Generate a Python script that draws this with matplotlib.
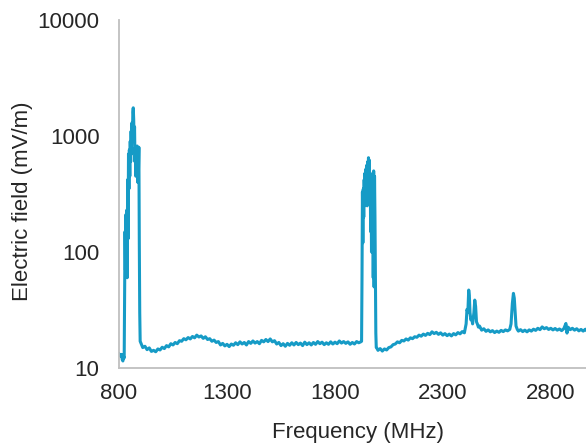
"""
Electric field spectrum 800 - 3000 MHz (log scale), Excel-style line chart
"""

import numpy as np
import matplotlib.pyplot as plt
from matplotlib.ticker import FixedLocator, NullLocator

# ---- data ----
# low end before the first band
low_freq = [800, 803, 806, 809, 812, 815, 818, 821, 824]
low_vals = [13.2, 12.8, 13.0, 12.6, 13.1, 11.8, 11.5, 12.6, 12.2]

# first band (~826-898 MHz)
band1_freq = [826, 828, 830, 832, 834, 836, 838, 840, 842, 844, 846, 848, 850, 852, 854,
              856, 858, 860, 862, 864, 866, 868, 870, 872, 874, 876, 878, 880, 882, 884,
              886, 888, 890, 892, 894, 896, 898]
band1_vals = [40, 150, 70, 210, 90, 230, 60, 420, 130, 700, 350, 760, 450, 900, 600,
              1100, 700, 1300, 900, 1600, 1750, 1400, 900, 1200, 600, 800, 450, 800, 600, 820,
              400, 780, 500, 800, 120, 30, 17]

# floor between the first and second band
mid_freq = [905, 910, 920, 930, 940, 950, 960, 970, 980, 990,
            1000, 1010, 1020, 1030, 1040, 1050, 1060, 1070, 1080, 1090,
            1100, 1110, 1120, 1130, 1140, 1150, 1160, 1170, 1180, 1190,
            1200, 1210, 1220, 1230, 1240, 1250, 1260, 1270, 1280, 1290,
            1300, 1310, 1320, 1330, 1340, 1350, 1360, 1370, 1380, 1390,
            1400, 1410, 1420, 1430, 1440, 1450, 1460, 1470, 1480, 1490,
            1500, 1510, 1520, 1530, 1540, 1550, 1560, 1570, 1580, 1590,
            1600, 1610, 1620, 1630, 1640, 1650, 1660, 1670, 1680, 1690,
            1700, 1710, 1720, 1730, 1740, 1750, 1760, 1770, 1780, 1790,
            1800, 1810, 1820, 1830, 1840, 1850, 1860, 1870, 1880, 1890,
            1900, 1910, 1919]
mid_vals = [15.8, 15.0, 15.4, 14.4, 14.9, 13.9, 14.2, 13.8, 14.6, 14.3,
            15.1, 14.7, 15.6, 15.2, 16.2, 15.8, 16.6, 16.2, 17.2, 17.0,
            17.9, 17.5, 18.3, 17.8, 18.7, 18.2, 19.2, 18.5, 18.9, 18.0,
            18.6, 17.6, 17.9, 17.0, 17.4, 16.6, 16.9, 15.8, 16.3, 15.5,
            16.0, 15.3, 16.1, 15.7, 16.5, 15.9, 16.8, 16.1, 16.6, 15.8,
            16.9, 16.3, 17.1, 16.4, 16.9, 16.2, 17.3, 16.8, 17.6, 16.9,
            17.8, 16.8, 17.2, 16.1, 16.6, 15.6, 16.2, 15.4, 16.3, 15.7,
            16.5, 15.8, 16.6, 15.9, 16.4, 15.6, 16.7, 15.9, 16.5, 15.8,
            16.6, 16.0, 16.9, 16.2, 16.7, 15.9, 16.5, 16.0, 16.8, 16.1,
            16.7, 16.2, 17.1, 16.4, 16.9, 16.3, 16.8, 16.0, 16.6, 16.1,
            16.9, 16.5, 16.8]

# second band (~1923-1991 MHz)
band2_freq = [1923, 1925, 1927, 1929, 1931, 1933, 1935, 1937, 1939, 1941, 1943, 1945,
              1947, 1949, 1951, 1953, 1955, 1957, 1959, 1961, 1963, 1965, 1967, 1969,
              1971, 1973, 1975, 1977, 1979, 1981, 1983, 1985, 1987, 1989, 1991]
band2_vals = [17, 60, 330, 120, 350, 200, 420, 250, 480, 300, 520, 350,
              560, 250, 600, 400, 650, 420, 620, 300, 450, 150, 380, 100,
              300, 120, 480, 60, 500, 50, 450, 200, 60, 20, 15]

# upper floor with the two small bands (~2420 and ~2628 MHz)
high_freq = [1994, 1999, 2009, 2019, 2029, 2039, 2049, 2059, 2069, 2079, 2089, 2099,
             2109, 2119, 2129, 2139, 2149, 2159, 2169, 2179, 2189, 2199, 2209, 2219,
             2229, 2239, 2249, 2259, 2269, 2279, 2289, 2299, 2309, 2319, 2329, 2339,
             2349, 2359, 2369, 2379, 2389, 2399,
             2407, 2411, 2415, 2419, 2422, 2425, 2429, 2433, 2437, 2443, 2447, 2451,
             2455, 2459, 2464,
             2469, 2479, 2489, 2499, 2509, 2519, 2529, 2539, 2549, 2559, 2569, 2579,
             2589, 2599, 2609,
             2615, 2621, 2626, 2630, 2634, 2638, 2644,
             2649, 2659, 2669, 2679, 2689, 2699, 2709, 2719, 2729, 2739, 2749, 2759,
             2769, 2779, 2789, 2799, 2809, 2819, 2829, 2839, 2849, 2859, 2869, 2874,
             2879, 2889, 2899, 2909, 2919, 2929, 2939, 2949, 2959, 2965]
high_vals = [14.8, 14.2, 14.7, 14.0, 14.6, 14.3, 15.0, 15.2, 15.9, 16.1, 16.8, 16.5,
             17.3, 17.1, 17.8, 17.4, 18.2, 17.9, 18.6, 18.4, 19.2, 18.8, 19.6, 19.1,
             19.9, 19.4, 20.5, 19.8, 20.3, 19.5, 20.1, 19.2, 19.8, 19.0, 19.6, 18.9,
             19.8, 19.3, 20.2, 19.7, 20.6, 20.1,
             24, 32, 30, 47, 42, 30, 26, 27, 24, 30, 38.5, 34,
             25, 24, 22.5,
             23, 21.2, 21.8, 20.7, 21.3, 20.5, 21.0, 20.2, 20.8, 20.3, 21.1, 20.6,
             21.3, 20.9, 21.5,
             24, 36, 44, 40, 30, 23, 21.5,
             20.8, 21.4, 20.6, 21.2, 20.5, 21.3, 20.8, 21.6, 21.1, 22.0, 21.4, 22.6,
             21.8, 22.3, 21.5, 22.0, 21.3, 21.9, 21.2, 21.7, 21.0, 21.8, 24.2, 20.0,
             22.5, 21.4, 22.0, 21.2, 21.8, 20.9, 21.5, 20.8, 21.6, 21.0]

x_ticks = [800, 1300, 1800, 2300, 2800]
y_ticks = [10, 100, 1000, 10000]

freq = np.concatenate([low_freq, band1_freq, mid_freq, band2_freq, high_freq])
field = np.concatenate([low_vals, band1_vals, mid_vals, band2_vals, high_vals])

# ---- plot ----
plt.rcParams['font.family'] = ['Liberation Sans', 'DejaVu Sans']
text_color = '#262626'
axis_color = '#bfbfbf'

fig = plt.figure(figsize=(5.86, 4.44), dpi=100)
ax = fig.add_axes([119 / 586, 76 / 444, 467 / 586, 348 / 444])

ax.plot(freq, field, color='#169bc6', lw=2.2, solid_joinstyle='round')

ax.set_yscale('log')
ax.set_ylim(10, 10000)
ax.set_xlim(800, 2962)

ax.yaxis.set_major_locator(FixedLocator(y_ticks))
ax.yaxis.set_minor_locator(NullLocator())
ax.set_yticklabels([str(v) for v in y_ticks])
ax.set_xticks(x_ticks)
ax.set_xticklabels([str(v) for v in x_ticks])

ax.tick_params(axis='both', length=0, labelsize=16, colors=text_color)
ax.tick_params(axis='y', pad=14)
ax.tick_params(axis='x', pad=11)

for side in ['top', 'right']:
    ax.spines[side].set_visible(False)
for side in ['left', 'bottom']:
    ax.spines[side].set_color(axis_color)
    ax.spines[side].set_linewidth(1.3)

ax.set_xlabel("Frequency (MHz)", fontsize=16, color=text_color)
ax.xaxis.set_label_coords(0.512, -0.155)
ax.set_ylabel("Electric field (mV/m)", fontsize=16, color=text_color)
ax.yaxis.set_label_coords(-0.185, 0.48)

fig.savefig("out.png", dpi=100)
